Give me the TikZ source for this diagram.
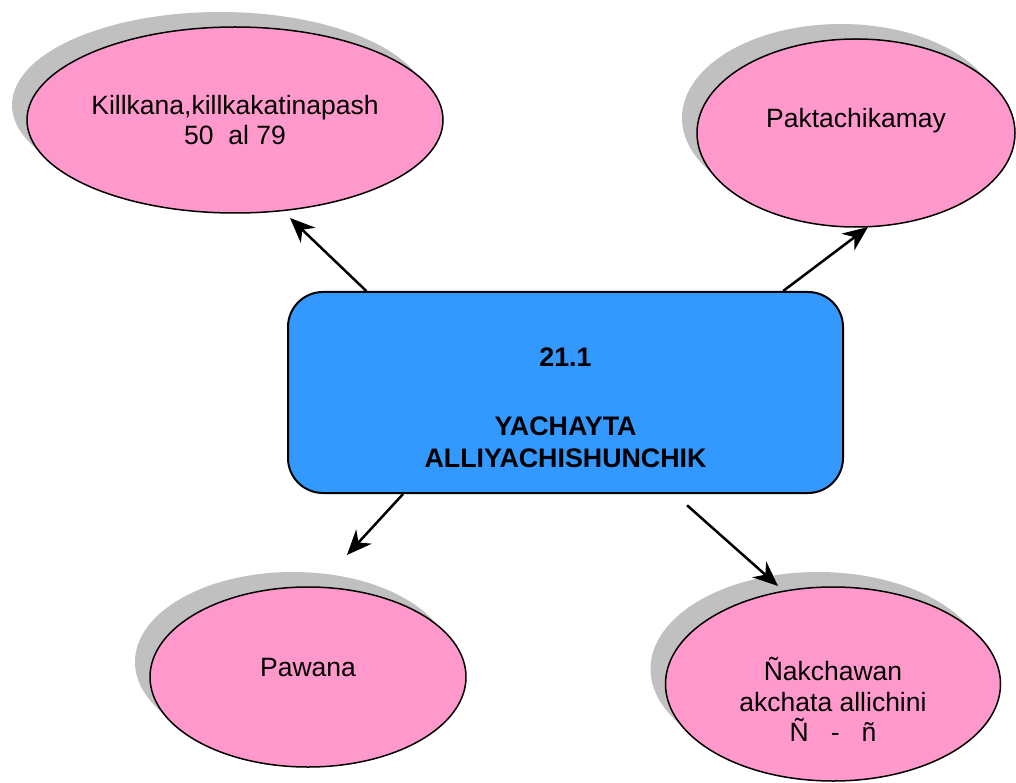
\documentclass[tikz,border=0pt]{standalone}
\usepackage{fontspec}
\setmainfont{Liberation Sans}
\usetikzlibrary{shapes.geometric,shadows,arrows.meta}

\definecolor{bubblepink}{HTML}{FF99CC}
\definecolor{hubblue}{HTML}{3399FF}
\definecolor{shadowgray}{HTML}{C0C0C0}

\tikzset{
  bubble/.style={draw, ellipse, fill=bubblepink, line width=1.5pt,
    inner sep=0pt, align=center, font=\fontsize{26.5}{30.5}\selectfont,
    drop shadow={shadow xshift=-15pt, shadow yshift=15pt,
      fill=shadowgray, opacity=1}},
  hubbox/.style={draw, rectangle, rounded corners=35pt, fill=hubblue,
    line width=2pt, align=center,
    font=\bfseries\fontsize{26.8}{32}\selectfont},
  arr/.style={->, >={Stealth[length=25pt,width=21pt,inset=8pt]},
    line width=2.5pt}
}

\begin{document}
\begin{tikzpicture}[x=1pt,y=-1pt]
\useasboundingbox (0,0) rectangle (1016,783);

\node[hubbox, minimum width=555pt, minimum height=201pt] (hub) at (565.5,392.5)
{\mbox{}\\[18pt]21.1\\[37pt]YACHAYTA\\ALLIYACHISHUNCHIK};

\node[bubble, minimum width=416pt, minimum height=186pt] (killkana) at (235,120)
{Killkana,killkakatinapash\\50~~al 79};

\node[bubble, minimum width=318pt, minimum height=188pt] (pakta) at (856,133)
{Paktachikamay\\\mbox{}};

\node[bubble, minimum width=316pt, minimum height=180pt] (pawana) at (308,677)
{Pawana\\[-12pt]\mbox{}};

\node[bubble, minimum width=335pt, minimum height=194pt] (nakcha) at (833,684)
{\mbox{}\\[24pt]Ñakchawan\\akchata allichini\\Ñ~~~-~~~ñ};

% free ends of the arrows
\coordinate (killkanatip) at (290,218);
\coordinate (paktatip) at (868,227);
\coordinate (pawanatip) at (347,555);
\coordinate (nakchatip) at (778,586);

\draw[arr] (hub.153.7) -- (killkanatip);
\draw[arr] (hub.25.1) -- (paktatip);
\draw[arr] (hub.212.5) -- (pawanatip);
\draw[arr, shorten <=17pt] (hub.-43.5) -- (nakchatip);
\end{tikzpicture}
\end{document}
